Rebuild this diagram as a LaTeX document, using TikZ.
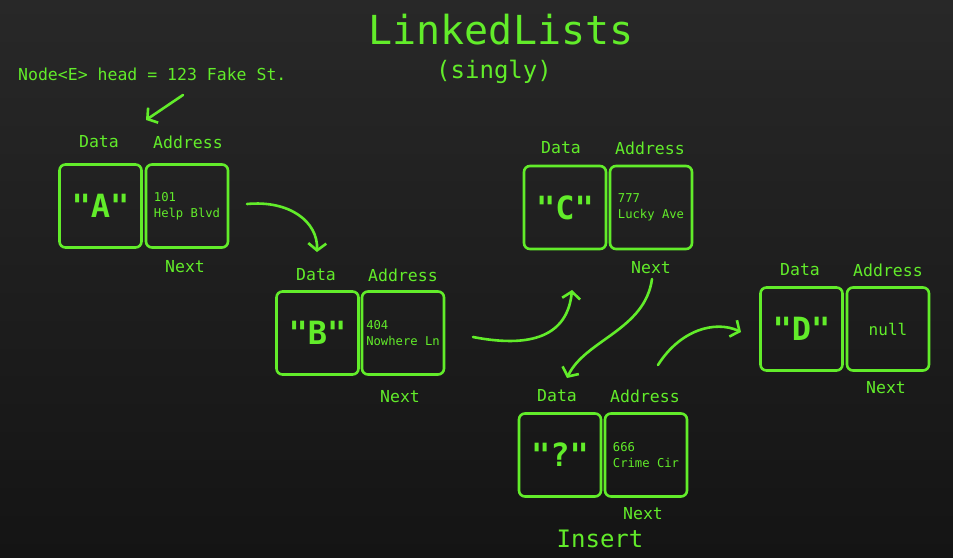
\documentclass[tikz,border=0pt]{standalone}
\usepackage{fontspec}
\setmonofont{DejaVu Sans Mono}
\usetikzlibrary{arrows.meta,positioning}
\definecolor{termgreen}{RGB}{98,236,42}
\definecolor{bgtop}{RGB}{40,40,40}
\definecolor{bgbottom}{RGB}{20,20,20}
\begin{document}
\begin{tikzpicture}[x=1pt,y=1pt,yscale=-1,
    cell/.style={draw=termgreen, line width=2.6pt, rounded corners=6pt, minimum width=82pt, minimum height=83pt, inner sep=0pt, text=termgreen},
    bigval/.style={cell, font=\ttfamily\bfseries\fontsize{32}{32}\selectfont},
    addrval/.style={cell, font=\ttfamily\fontsize{12.2}{16}\selectfont, align=left},
    lbl/.style={text=termgreen, font=\ttfamily\fontsize{16.5}{16.5}\selectfont, inner sep=0pt},
    link/.style={draw=termgreen, line width=2.6pt, line cap=round, line join=round, -{Straight Barb[length=7pt,width=18pt]}}]
        %Shape: Background
        \shade [top color=bgtop, bottom color=bgbottom] (0,0) rectangle (953,557);
        \useasboundingbox (0,0) rectangle (953,557);

        % Text Node
        \node [lbl, font=\ttfamily\fontsize{40}{40}\selectfont] (title) at (501,30) {LinkedLists};
        % Text Node
        \node [lbl, font=\ttfamily\fontsize{24}{24}\selectfont] (subtitle) at (494,72) {(singly)};
        % Text Node
        \node [lbl, anchor=west] (head) at (18,74) {Node<E> head = 123 Fake St.};

        %Shape: Node A
        \node [bigval] (dataA) at (100.5,206) {"A"};
        \node [addrval] (addrA) at (187,206) {101\\Help Blvd};
        \node [lbl] (dlblA) at (99,142) {Data};
        \node [lbl] (alblA) at (188,142) {Address};
        \node [lbl] (nlblA) at (185,267) {Next};

        %Shape: Node B
        \node [bigval] (dataB) at (317.5,333) {"B"};
        \node [addrval] (addrB) at (403,333) {404\\Nowhere Ln};
        \node [lbl] (dlblB) at (316,275) {Data};
        \node [lbl] (alblB) at (403,275) {Address};
        \node [lbl] (nlblB) at (400,397) {Next};

        %Shape: Node C
        \node [bigval] (dataC) at (565,207.5) {"C"};
        \node [addrval] (addrC) at (651,207.5) {777\\Lucky Ave};
        \node [lbl] (dlblC) at (561,148) {Data};
        \node [lbl] (alblC) at (650,148) {Address};
        \node [lbl] (nlblC) at (651,268) {Next};

        %Shape: Node ?
        \node [bigval] (dataQ) at (560,455) {"?"};
        \node [addrval] (addrQ) at (646,455) {666\\Crime Cir};
        \node [lbl] (dlblQ) at (557,396) {Data};
        \node [lbl] (alblQ) at (645,396) {Address};
        \node [lbl] (nlblQ) at (643,514) {Next};
        \node [lbl, font=\ttfamily\fontsize{24}{24}\selectfont] (insert) at (600,539) {Insert};

        %Shape: Node D
        \node [bigval] (dataD) at (801.5,329) {"D"};
        \node [addrval, align=center, font=\ttfamily\fontsize{16}{16}\selectfont] (addrD) at (888,329) {null};
        \node [lbl] (dlblD) at (800,270) {Data};
        \node [lbl] (alblD) at (888,270) {Address};
        \node [lbl] (nlblD) at (886,388) {Next};

        %Shape: Arrow ends
        \coordinate (headfrom) at (183,95);
        \coordinate (headto) at (146,120);
        \coordinate (abfrom) at (247,204);
        \coordinate (abto) at (317,252);
        \coordinate (bcfrom) at (473,337);
        \coordinate (bcto) at (572,290);
        \coordinate (cqfrom) at (652,279);
        \coordinate (cqto) at (567,378);
        \coordinate (qdfrom) at (658,365);
        \coordinate (qdto) at (741,332);

        %Shape: Arrows
        \draw [link] (headfrom) -- (headto);
        \draw [link] (abfrom) .. controls (290,200) and (318,222) .. (abto);
        \draw [link] (bcfrom) .. controls (540,350) and (568,330) .. (bcto);
        \draw [link] (cqfrom) .. controls (645,330) and (585,340) .. (cqto);
        \draw [link] (qdfrom) .. controls (680,330) and (715,320) .. (qdto);
\end{tikzpicture}
\end{document}
